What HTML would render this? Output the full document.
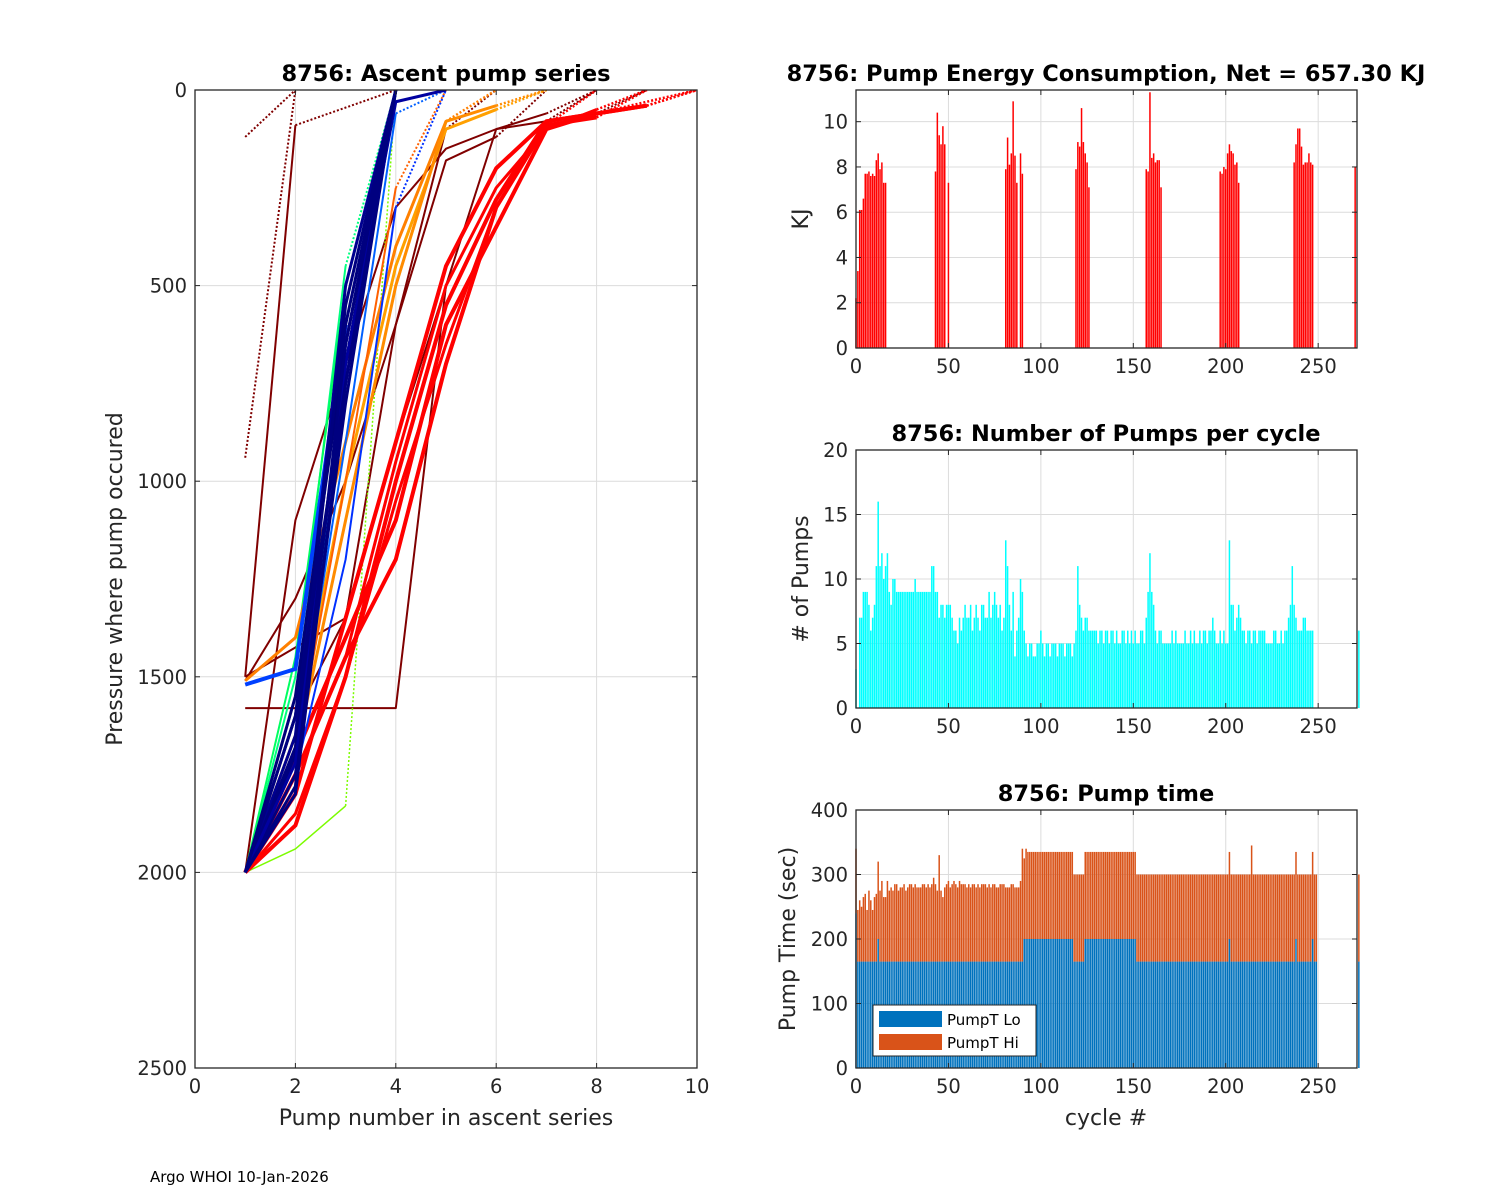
<!DOCTYPE html>
<html><head><meta charset="utf-8"><style>
html,body{margin:0;padding:0;background:#fff;}
svg{display:block;font-family:"DejaVu Sans","Liberation Sans",sans-serif;}
</style></head><body>
<svg id="fig" width="1500" height="1200" viewBox="0 0 1500 1200" xmlns="http://www.w3.org/2000/svg">
<rect width="1500" height="1200" fill="#fff"/>
<text x="150" y="1182" font-size="15" fill="#000">Argo WHOI 10-Jan-2026</text>
</svg>
<script>
// ---------- DATA ----------
const cycleTicks=[0,50,100,150,200,250];
const energyCycles=[0,1,2,3,4,5,6,7,8,9,10,11,12,13,14,15,16,43,44,45,46,47,48,50,81,82,83,84,85,86,87,89,90,119,120,121,122,123,124,125,126,157,158,159,160,161,162,163,164,165,197,198,199,200,201,202,203,204,205,206,207,237,238,239,240,241,242,243,244,245,246,247,270];
const energyValues=[2.2,3.4,6.1,6.1,6.6,7.7,7.7,7.8,7.6,7.7,7.6,8.3,8.6,7.9,8.2,7.3,7.3,7.8,10.4,9.4,9.0,9.8,9.0,7.3,7.9,9.3,8.1,8.6,10.9,8.5,7.3,8.6,7.7,7.9,9.1,8.9,10.6,9.1,8.6,8.2,7.1,7.9,7.8,11.3,8.4,8.6,8.2,8.3,8.3,7.1,7.8,7.7,8.0,7.9,8.6,9.0,8.7,8.6,8.1,8.2,7.3,8.2,9.0,9.7,9.7,8.9,8.1,8.2,8.2,8.6,8.2,8.1,8.0];
const energyTicks=[0,2,4,6,8,10];
const pumpCounts=[3,0,7,7,9,9,9,8,6,7,8,11,16,
11,12,10,11,12,9,8,10,10,9,9,9,9,9,9,9,9,9,9,10,9,9,9,9,9,9,9,9,11,11,9,9,
7,8,8,7,8,8,8,7,6,6,5,7,6,7,8,7,7,8,6,7,8,7,6,8,8,7,7,9,7,8,9,8,7,8,6,7,
13,
11,8,6,9,4,6,7,10,9,6,5,4,5,5,4,4,5,5,6,5,4,5,5,4,5,5,5,4,5,5,5,4,5,5,5,4,5,6,
11,
8,7,6,7,7,6,6,6,6,6,5,6,6,5,6,6,5,6,6,5,6,5,5,6,6,5,6,5,6,5,6,5,5,6,6,5,7,9,
12,
9,8,6,5,6,6,5,5,5,5,5,6,5,6,5,5,5,5,6,5,5,6,5,6,5,5,6,5,6,6,5,6,6,7,6,5,5,6,5,6,5,5,
13,
8,8,6,7,8,7,6,6,5,6,6,5,6,6,5,6,6,6,6,5,5,5,5,6,6,5,5,6,5,6,6,7,8,
11,
8,7,6,6,6,7,7,6,6,6,6];
const pumpTicks=[0,5,10,15,20];
const pumpLastCycle=[272];
const pumpLastValue=[6];
const timeLo=[240,165,165,165,165,165,165,165,165,165,165,165,200,165,165,165,165,165,165,165,165,165,165,165,165,165,165,165,165,165,165,165,165,165,165,165,165,165,165,165,165,165,165,165,165,165,165,165,165,165,165,165,165,165,165,165,165,165,165,165,165,165,165,165,165,165,165,165,165,165,165,165,165,165,165,165,165,165,165,165,165,165,165,165,165,165,165,165,165,165,165,200,200,200,200,200,200,200,200,200,200,200,200,200,200,200,200,200,200,200,200,200,200,200,200,200,200,200,165,165,165,165,165,165,200,200,200,200,200,200,200,200,200,200,200,200,200,200,200,200,200,200,200,200,200,200,200,200,200,200,200,200,165,165,165,165,165,165,165,165,165,165,165,165,165,165,165,165,165,165,165,165,165,165,165,165,165,165,165,165,165,165,165,165,165,165,165,165,165,165,165,165,165,165,165,165,165,165,165,165,165,165,200,165,165,165,165,165,165,165,165,165,165,165,165,165,165,165,165,165,165,165,165,165,165,165,165,165,165,165,165,165,165,165,165,165,165,165,200,165,165,165,165,165,165,165,165,200,165,165];
const timeHi=[100,80,95,85,100,105,80,110,95,80,100,105,120,110,125,100,100,125,110,115,110,120,120,110,115,115,120,110,115,120,120,115,120,115,115,115,120,120,115,120,115,120,130,120,110,165,110,100,115,120,125,115,120,125,120,115,125,120,120,120,115,120,115,120,120,115,120,115,120,120,120,115,120,115,120,120,115,115,120,120,120,115,115,115,120,120,115,115,115,125,175,125,140,135,135,135,135,135,135,135,135,135,135,135,135,135,135,135,135,135,135,135,135,135,135,135,135,135,135,135,135,135,135,135,135,135,135,135,135,135,135,135,135,135,135,135,135,135,135,135,135,135,135,135,135,135,135,135,135,135,135,135,135,135,135,135,135,135,135,135,135,135,135,135,135,135,135,135,135,135,135,135,135,135,135,135,135,135,135,135,135,135,135,135,135,135,135,135,135,135,135,135,135,135,135,135,135,135,135,135,135,135,135,135,135,135,135,135,135,135,135,135,135,135,180,135,135,135,135,135,135,135,135,135,135,135,135,135,135,135,135,135,135,135,135,135,135,135,135,135,135,135,135,135,135,135,135,135,135,135,135,135,135,135,135,135,135,135,135,135,135];
const timeLastLo=[165];
const timeLastHi=[135];
const timeTicks=[0,100,200,300,400];
const ascentXTicks=[0,2,4,6,8,10];
const ascentYTicks=[0,500,1000,1500,2000,2500];
// ascent profiles
const profColors=["#800000","#800000","#800000","#800000","#800000","#800000","#800000","#800000","#00ff80","#00ff60","#33ff33","#7cfc00","#00ffff","#ff8000","#ffa000","#ff8c00","#ff6000","#ff0000","#ff0000","#ff0000","#ff0000","#ff0000","#ff0000","#0040ff","#0030ff","#0060ff","#000080","#000080","#000080","#000090","#00007a","#000080","#000080","#0000a0","#000080","#000080"];
const profWidths=[2,2,2,2,2,2,2,2,2,2,2,1.5,2,3,3,3,2,4,4,4,4,3,3,4,2,2,3,3,3,3,3,3,3,3,3,3];
const profDottedLast=[1,1,1,1,1,1,1,1,1,1,1,1,1,1,1,1,1,1,1,1,1,1,1,1,1,1,0,0,0,0,0,0,0,0,0,0];
const profPumps=[[1,4,5,6,7,8],[1,2,4],[1,2,3,4,5,6,7,8],[1,2,3,4,5,6,7,8,9],[1,3,4,5,6,7],[1,2,3,4,5,6],[1,2],[1,2],
[1,2,3,4],[1,2,3,4],[1,2,3,4],[1,2,3,4],[1,2,3,4],
[1,2,3,4,5,6],[1,2,3,4,5,6,7],[1,2,3,4,5,6,7],[1,2,3,4,5],
[1,2,3,4,5,6,7,8,9,10],[1,2,3,4,5,6,7,8,9,10],[1,2,3,4,5,6,7,8,9],[1,2,3,4,5,6,7,8,10],[1,2,3,4,5,6,7,8],[1,2,3,4,5,6,7,8,9],
[1,2,3,4],[1,2,3,4,5],[1,2,3,4,5],
[1,2,3,4],[1,2,3,4],[1,2,3,4],[1,2,3,4],[1,2,3,4],[1,2,3,4],[1,2,3,4],[1,2,3,4,5],[1,2,3,4],[1,2,3,4]];
const profPress=[[1580,1580,500,100,80,0],[1500,90,0],[2000,1100,700,300,150,100,60,0],[2000,1600,1350,900,500,250,100,60,0],[1500,1350,600,180,120,0],[1510,1300,1000,600,100,0],[120,0],[940,0],
[2000,1500,450,0],[2000,1450,500,0],[2000,1550,600,0],[2000,1940,1830,0],[2000,1800,700,0],
[1510,1400,900,400,80,0],[2000,1650,1000,450,100,50,0],[2000,1700,1100,500,80,40,0],[2000,1700,1000,250,0],
[2000,1880,1500,1000,550,280,80,60,40,0],[2000,1700,1400,1100,600,350,100,60,40,0],[2000,1750,1450,1200,700,300,90,70,0],[2000,1800,1350,900,450,200,80,60,0],[2000,1850,1500,1050,650,300,90,0],[2000,1750,1450,950,500,250,100,50,0],
[1520,1480,600,0],[2000,1750,1200,300,0],[2000,1700,900,60,0],
[2000,1700,700,0],[2000,1600,600,0],[2000,1750,800,0],[2000,1650,500,0],[2000,1550,650,0],[2000,1800,750,0],[2000,1680,550,0],[2000,1720,700,30,0],[2000,1600,750,0],[2000,1780,650,0]];
// ---------- DRAW ----------
const NS="http://www.w3.org/2000/svg";
const svg=document.getElementById('fig');
function mk(tag,attrs,parent){const e=document.createElementNS(NS,tag);for(const k in attrs)e.setAttribute(k,attrs[k]);(parent||svg).appendChild(e);return e;}
function axes(L,T,R,B,xmin,xmax,ymin,ymax,rev,name){
  const sx=v=>L+(v-xmin)/(xmax-xmin)*(R-L);
  const sy=rev?(v=>T+(v-ymin)/(ymax-ymin)*(B-T)):(v=>B-(v-ymin)/(ymax-ymin)*(B-T));
  return {L,T,R,B,sx,sy,name};
}
function frame(a,xt,yt){
  const g=mk('g',{});
  
  
  xt.forEach(v=>{const x=a.sx(v);if(x>a.L+1&&x<a.R-1)mk('line',{x1:x,x2:x,y1:a.T,y2:a.B,stroke:'#dcdcdc','stroke-width':1},g);});
  yt.forEach(v=>{const y=a.sy(v);if(y>a.T+1&&y<a.B-1)mk('line',{x1:a.L,x2:a.R,y1:y,y2:y,stroke:'#dcdcdc','stroke-width':1},g);});
}
function ticks(a,xt,yt){
  const g=mk('g',{'font-size':19.5,fill:'#262626'});
  
  
  mk('rect',{x:a.L,y:a.T,width:a.R-a.L,height:a.B-a.T,fill:'none',stroke:'#262626','stroke-width':1.3},g);
  xt.forEach(v=>{const x=a.sx(v);
    mk('line',{x1:x,x2:x,y1:a.B,y2:a.B-5,stroke:'#262626'},g);mk('line',{x1:x,x2:x,y1:a.T,y2:a.T+5,stroke:'#262626'},g);
    const t=mk('text',{x:x,y:a.B+25,'text-anchor':'middle'},g);t.textContent=v;});
  yt.forEach(v=>{const y=a.sy(v);
    mk('line',{x1:a.L,x2:a.L+5,y1:y,y2:y,stroke:'#262626'},g);mk('line',{x1:a.R,x2:a.R-5,y1:y,y2:y,stroke:'#262626'},g);
    const t=mk('text',{x:a.L-8,y:y+7,'text-anchor':'end'},g);t.textContent=v;});
}
function title(x,y,s,name){const t=mk('text',{x:x,y:y,'text-anchor':'middle','font-size':22.5,'font-weight':'bold',fill:'#000'});t.textContent=s;
  t.setAttribute('xml:space','preserve');
  
  }
function ylabel(x,y,s,name){const t=mk('text',{x:0,y:0,'text-anchor':'middle','font-size':22,fill:'#262626',transform:`translate(${x},${y}) rotate(-90)`});t.textContent=s;
  
  }
function xlabel(x,y,s,name){const t=mk('text',{x:x,y:y,'text-anchor':'middle','font-size':22,fill:'#262626'});t.textContent=s;
  
  }
function bar(a,c,v0,v1,color,g){const w=1.5;const x=a.sx(c)-w/2;const y1=a.sy(v1),y0=a.sy(v0);
  const r=mk('rect',{x:x,y:Math.min(y0,y1),width:w,height:Math.abs(y0-y1),fill:color},g);
  
  }

// Ascent chart
const A=axes(195,90,697,1068,0,10,0,2500,true,'ascent');
frame(A,ascentXTicks,ascentYTicks);
const cp=mk('clipPath',{id:'clipA'});
mk('rect',{x:A.L,y:A.T,width:A.R-A.L,height:A.B-A.T},cp);
const gA=mk('g',{'clip-path':'url(#clipA)'});


profPumps.forEach((ps,i)=>{
  const pr=profPress[i];
  const pts=ps.map((p,j)=>[A.sx(p),A.sy(pr[j])]);
  const n=pts.length;
  const solidPts=profDottedLast[i]?pts.slice(0,n-1):pts;
  if(solidPts.length>1){
    const l=mk('polyline',{points:solidPts.map(p=>p.join(',')).join(' '),fill:'none',stroke:profColors[i],'stroke-width':profWidths[i],'stroke-linejoin':'round'},gA);
    
    
  }
  if(profDottedLast[i]){
    const d=mk('line',{x1:pts[n-2][0],y1:pts[n-2][1],x2:pts[n-1][0],y2:pts[n-1][1],stroke:profColors[i],'stroke-width':Math.min(profWidths[i],2.5),'stroke-dasharray':'2,2'},gA);
    
    
  }
});
ticks(A,ascentXTicks,ascentYTicks);
title(446,81,'8756: Ascent pump series','ascent-title');
ylabel(122,579,'Pressure where pump occured','ascent-y-label');
xlabel(446,1125,'Pump number in ascent series','ascent-x-label');

// Energy
const E=axes(856,90,1357,348,0,271,0,11.4,false,'energy');
frame(E,cycleTicks,energyTicks);
const gE=mk('g',{});
energyCycles.forEach((c,i)=>bar(E,c,0,energyValues[i],'#ff0000',gE));
ticks(E,cycleTicks,energyTicks);
title(1106,81,'8756: Pump Energy Consumption,  Net = 657.30 KJ','energy-title');
ylabel(808,219,'KJ','energy-y-label');

// Pumps
const P=axes(856,450,1357,708,0,271,0,20,false,'pumps');
frame(P,cycleTicks,pumpTicks);
const gP=mk('g',{});
pumpCounts.forEach((v,c)=>{if(v>0)bar(P,c,0,v,'#00ffff',gP);});
pumpLastCycle.forEach((c,i)=>bar(P,c,0,pumpLastValue[i],'#00ffff',gP));
ticks(P,cycleTicks,pumpTicks);
title(1106,441,'8756: Number of Pumps per cycle','pumps-title');
ylabel(808,579,'# of Pumps','pumps-y-label');

// Time
const Tm=axes(856,810,1357,1068,0,271,0,400,false,'time');
frame(Tm,cycleTicks,timeTicks);
const gT=mk('g',{});
timeLo.forEach((v,c)=>{bar(Tm,c,0,v,'#0072bd',gT);bar(Tm,c,v,v+timeHi[c],'#d95319',gT);});
bar(Tm,272,0,timeLastLo[0],'#0072bd',gT);bar(Tm,272,timeLastLo[0],timeLastLo[0]+timeLastHi[0],'#d95319',gT);
ticks(Tm,cycleTicks,timeTicks);
title(1106,801,'8756: Pump time','time-title');
ylabel(795,939,'Pump Time (sec)','time-y-label');
xlabel(1106,1125,'cycle #','time-x-label');
// legend
const lg=mk('g',{'font-size':15,fill:'#000'});


mk('rect',{x:873,y:1005,width:163,height:51,fill:'#fff',stroke:'#262626','stroke-width':1},lg);
mk('rect',{x:879,y:1011,width:63,height:16,fill:'#0072bd'},lg);
mk('rect',{x:879,y:1034,width:63,height:16,fill:'#d95319'},lg);
const t1=mk('text',{x:947,y:1025},lg);t1.textContent='PumpT Lo';


const t2=mk('text',{x:947,y:1048},lg);t2.textContent='PumpT Hi';


</script>
</body></html>
